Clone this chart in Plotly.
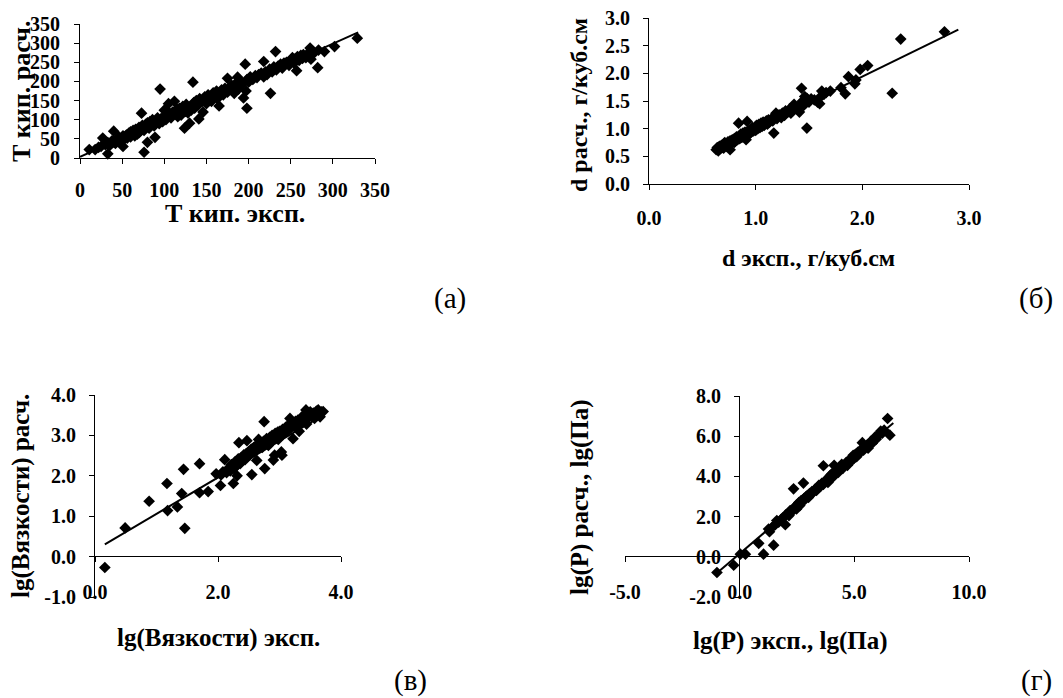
import plotly.graph_objects as go

# ---------------- data ----------------
# (а) boiling temperature: experimental vs calculated
a_x = [11, 18, 22, 25, 27, 30, 33, 33, 35, 38, 40, 40, 42, 45, 46, 48, 51, 51, 52, 55,
       56, 58, 60, 60, 62, 63, 65, 66, 68, 68, 70, 70, 72, 73, 74, 76, 76, 78, 78, 80,
       80, 82, 83, 85, 86, 88, 89, 90, 92, 94, 95, 96, 98, 100, 100, 102, 104, 105, 106, 108,
       110, 112, 113, 115, 116, 118, 120, 120, 122, 124, 125, 126, 128, 130, 130, 132, 134, 135, 136, 138,
       140, 141, 142, 145, 146, 148, 150, 150, 152, 155, 156, 158, 160, 162, 163, 165, 166, 168, 170, 172,
       175, 175, 178, 180, 183, 185, 187, 188, 190, 192, 194, 196, 197, 198, 198, 200, 202, 205, 208, 210,
       212, 215, 218, 218, 220, 222, 225, 226, 228, 230, 232, 233, 235, 238, 240, 242, 245, 248, 250, 252,
       254, 255, 257, 258, 260, 262, 264, 265, 268, 270, 273, 274, 275, 278, 282, 283, 290, 302, 329]
a_y = [22, 22, 28, 30, 52, 35, 11, 40, 32, 45, 70, 42, 38, 50, 55, 44, 30, 58, 48, 60,
       52, 65, 55, 68, 62, 72, 58, 75, 70, 62, 80, 66, 76, 117, 85, 15, 72, 88, 80, 41,
       92, 78, 95, 88, 100, 84, 54, 98, 105, 90, 180, 102, 95, 110, 125, 100, 112, 142, 118, 105,
       120, 148, 115, 128, 108, 130, 118, 112, 135, 78, 122, 140, 118, 91, 132, 125, 198, 145, 130, 150,
       138, 102, 155, 148, 120, 160, 152, 142, 165, 158, 148, 170, 162, 175, 155, 136, 170, 178, 165, 182,
       208, 172, 185, 190, 169, 195, 211, 180, 200, 192, 157, 245, 175, 130, 205, 198, 212, 205, 215, 210,
       218, 222, 252, 212, 225, 218, 232, 169, 225, 238, 278, 230, 240, 245, 235, 248, 250, 242, 255, 262,
       248, 258, 228, 265, 255, 268, 260, 270, 262, 272, 287, 258, 278, 275, 236, 282, 278, 291, 313]
a_trend_x = [0, 330]
a_trend_y = [3, 328]
a_ticks = [0, 50, 100, 150, 200, 250, 300, 350]

# (б) density: experimental vs calculated
b_x = [0.63, 0.64, 0.65, 0.66, 0.67, 0.68, 0.69, 0.70, 0.70, 0.71, 0.72, 0.73, 0.74, 0.75, 0.76, 0.76,
       0.77, 0.78, 0.79, 0.80, 0.80, 0.81, 0.82, 0.83, 0.84, 0.84, 0.85, 0.86, 0.87, 0.88, 0.89, 0.90,
       0.90, 0.91, 0.92, 0.92, 0.93, 0.94, 0.95, 0.96, 0.97, 0.98, 0.99, 1.00, 1.00, 1.01, 1.02, 1.03,
       1.04, 1.05, 1.06, 1.07, 1.08, 1.09, 1.10, 1.11, 1.12, 1.13, 1.15, 1.16, 1.17, 1.18, 1.19, 1.20,
       1.22, 1.24, 1.25, 1.27, 1.28, 1.30, 1.32, 1.33, 1.35, 1.36, 1.38, 1.40, 1.41, 1.42, 1.43, 1.44,
       1.45, 1.46, 1.48, 1.48, 1.50, 1.52, 1.55, 1.58, 1.60, 1.61, 1.62, 1.64, 1.66, 1.70, 1.80, 1.84,
       1.87, 1.93, 1.94, 1.98, 2.05, 2.28, 2.36, 2.77]
b_y = [0.62, 0.66, 0.60, 0.68, 0.64, 0.70, 0.66, 0.72, 0.65, 0.75, 0.70, 0.68, 0.76, 0.72, 0.62, 0.78,
       0.74, 0.80, 0.76, 0.82, 0.75, 0.78, 0.85, 0.80, 1.10, 0.86, 0.82, 0.90, 0.84, 0.92, 0.86, 0.94,
       0.88, 0.80, 1.13, 0.92, 0.96, 0.90, 0.98, 0.94, 1.02, 0.96, 1.00, 1.04, 0.97, 1.06, 1.00, 1.08,
       1.02, 1.10, 1.04, 1.12, 1.06, 1.10, 1.14, 1.08, 1.16, 1.12, 1.18, 1.14, 0.92, 1.22, 1.28, 1.18,
       1.25, 1.20, 1.28, 1.24, 1.32, 1.30, 1.36, 1.28, 1.40, 1.44, 1.36, 1.38, 1.30, 1.45, 1.73, 1.50,
       1.42, 1.58, 1.01, 1.55, 1.48, 1.54, 1.52, 1.48, 1.45, 1.58, 1.68, 1.62, 1.65, 1.68, 1.74, 1.63,
       1.94, 1.81, 1.88, 2.07, 2.14, 1.64, 2.62, 2.75]
b_trend_x = [0.62, 2.90]
b_trend_y = [0.64, 2.79]
b_xticks = [0.0, 1.0, 2.0, 3.0]
b_yticks = [0.0, 0.5, 1.0, 1.5, 2.0, 2.5, 3.0]

# (в) lg(viscosity): experimental vs calculated
c_x = [0.16, 0.49, 0.88, 1.17, 1.18, 1.34, 1.41, 1.44, 1.46, 1.70, 1.70, 1.84, 1.97, 2.04, 2.05, 2.08,
       2.11, 2.14, 2.18, 2.20, 2.22, 2.25, 2.26, 2.28, 2.30, 2.31, 2.33, 2.34, 2.36, 2.38, 2.40, 2.42,
       2.44, 2.46, 2.47, 2.48, 2.50, 2.52, 2.54, 2.55, 2.56, 2.58, 2.60, 2.62, 2.63, 2.64, 2.66, 2.68,
       2.70, 2.72, 2.74, 2.75, 2.76, 2.77, 2.79, 2.80, 2.82, 2.84, 2.86, 2.88, 2.90, 2.90, 2.92, 2.93,
       2.95, 2.97, 2.98, 3.00, 3.02, 3.03, 3.04, 3.05, 3.07, 3.10, 3.12, 3.14, 3.17, 3.18, 3.20, 3.22,
       3.24, 3.26, 3.28, 3.30, 3.32, 3.34, 3.36, 3.38, 3.40, 3.42, 3.43, 3.44, 3.46, 3.48, 3.50, 3.52,
       3.55, 3.57, 3.60, 3.62, 3.63, 3.66, 3.68, 3.71]
c_y = [-0.27, 0.71, 1.37, 1.81, 1.14, 1.23, 1.56, 2.16, 0.70, 2.30, 1.58, 1.61, 2.05, 1.76, 2.02, 2.10,
       2.40, 2.08, 2.20, 2.12, 2.28, 1.81, 2.18, 2.35, 2.25, 2.00, 2.42, 2.82, 2.30, 2.45, 2.38, 2.52,
       2.40, 2.55, 2.87, 2.48, 2.60, 2.52, 2.66, 2.03, 2.58, 2.70, 2.62, 2.75, 2.38, 2.68, 2.90, 2.72,
       2.80, 2.70, 2.85, 3.34, 2.18, 2.78, 2.92, 2.82, 2.75, 2.95, 2.86, 3.00, 2.39, 2.90, 2.51, 3.05,
       2.94, 3.08, 2.90, 3.10, 3.00, 2.59, 2.51, 3.15, 3.05, 3.20, 3.10, 3.25, 3.42, 3.18, 3.30, 2.92,
       3.22, 3.35, 3.25, 3.38, 3.10, 3.30, 3.45, 3.35, 3.50, 3.40, 3.63, 3.28, 3.52, 3.45, 3.58, 3.48,
       3.55, 3.42, 3.60, 3.52, 3.63, 3.46, 3.58, 3.59]
c_trend_x = [0.16, 3.71]
c_trend_y = [0.30, 3.50]
c_xticks = [0.0, 2.0, 4.0]
c_yticks = [-1.0, 0.0, 1.0, 2.0, 3.0, 4.0]

# (г) lg(P): experimental vs calculated
d_x = [-0.99, -0.26, 0.03, 0.25, 0.83, 1.04, 1.26, 1.30, 1.40, 1.48, 1.55, 1.62, 1.70, 1.80, 1.90, 1.99,
       2.00, 2.10, 2.15, 2.20, 2.28, 2.35, 2.35, 2.42, 2.48, 2.52, 2.58, 2.62, 2.68, 2.72, 2.78, 2.80,
       2.85, 2.90, 2.95, 3.00, 3.05, 3.10, 3.15, 3.20, 3.28, 3.35, 3.40, 3.45, 3.52, 3.58, 3.65, 3.65,
       3.70, 3.78, 3.85, 3.90, 3.95, 4.00, 4.05, 4.10, 4.12, 4.18, 4.25, 4.30, 4.38, 4.45, 4.50, 4.58,
       4.65, 4.70, 4.78, 4.85, 4.90, 4.95, 5.00, 5.05, 5.10, 5.15, 5.22, 5.30, 5.35, 5.40, 5.48, 5.55,
       5.60, 5.65, 5.72, 5.78, 5.85, 5.90, 5.95, 6.02, 6.10, 6.15, 6.22, 6.30, 6.45, 6.55]
d_y = [-0.78, -0.42, 0.13, 0.13, 0.67, 0.13, 1.38, 1.25, 1.45, 0.58, 1.60, 1.80, 1.72, 1.85, 1.95, 1.60,
       2.08, 2.15, 2.05, 2.30, 2.25, 3.38, 2.40, 2.50, 2.38, 2.60, 2.70, 2.55, 2.80, 2.75, 3.67, 2.90,
       2.85, 3.00, 3.05, 2.95, 3.15, 3.10, 3.25, 3.20, 3.35, 3.30, 3.45, 3.55, 3.50, 3.65, 4.53, 3.60,
       3.75, 3.80, 3.70, 3.95, 4.05, 4.10, 3.95, 4.20, 4.55, 4.25, 4.35, 4.20, 4.45, 4.60, 4.40, 4.55,
       4.70, 4.55, 4.75, 4.90, 4.80, 5.05, 4.92, 5.10, 4.98, 5.20, 5.15, 5.35, 5.68, 5.30, 5.45, 5.55,
       5.40, 5.60, 5.75, 5.65, 5.80, 5.95, 5.85, 6.00, 6.10, 6.25, 6.15, 6.30, 6.88, 6.05]
d_trend_x = [-1.04, 6.70]
d_trend_y = [-0.85, 6.66]
d_xticks = [-5.0, 0.0, 5.0, 10.0]
d_yticks = [-2.0, 0.0, 2.0, 4.0, 6.0, 8.0]

# ---------------- layout helpers ----------------
# The page body has an 8 px default margin, so the figure is drawn 8 px
# right/down of the window corner; page pixel p maps to figure pixel p - 8.
OFF = 8
W, H = 1063 - OFF, 698 - OFF


def xd(a, b):
    return [(a - OFF) / W, (b - OFF) / W]


def yd(top, bottom):
    return [1 - (bottom - OFF) / H, 1 - (top - OFF) / H]


def px(x):
    return (x - OFF) / W


def py(y):
    return 1 - (y - OFF) / H


def fmt(v):
    return f"{v:.1f}".replace("\u2212", "-")


SERIF = "Liberation Serif, Times New Roman, DejaVu Serif, serif"
tick_font = dict(family=SERIF, size=20, color="black", weight="bold")


def axis(**kw):
    base = dict(showline=True, linecolor="black", linewidth=1, ticks="outside",
                ticklen=5, tickwidth=1, tickcolor="black", showgrid=False,
                zeroline=False, tickfont=tick_font, fixedrange=True, automargin=False,
                ticklabeloverflow="allow")
    base.update(kw)
    return base


fig = go.Figure()

panels = [
    (a_x, a_y, a_trend_x, a_trend_y, "x", "y"),
    (b_x, b_y, b_trend_x, b_trend_y, "x2", "y2"),
    (c_x, c_y, c_trend_x, c_trend_y, "x3", "y3"),
    (d_x, d_y, d_trend_x, d_trend_y, "x4", "y4"),
]
for xs, ys, tx, ty, xa, ya in panels:
    fig.add_trace(go.Scatter(x=xs, y=ys, mode="markers", xaxis=xa, yaxis=ya,
                             marker=dict(symbol="diamond", size=9, color="black"),
                             cliponaxis=False, showlegend=False, hoverinfo="x+y"))
    fig.add_trace(go.Scatter(x=tx, y=ty, mode="lines", xaxis=xa, yaxis=ya,
                             line=dict(color="black", width=2),
                             cliponaxis=False, showlegend=False, hoverinfo="skip"))

fig.update_layout(
    template="none",
    width=W, height=H, margin=dict(l=0, r=0, t=0, b=0, autoexpand=False),
    paper_bgcolor="white", plot_bgcolor="white", showlegend=False,
    font=dict(family=SERIF, color="black"),
    # (а)
    xaxis=axis(domain=xd(80, 375), range=[0, 350], anchor="y",
               tickvals=a_ticks, ticktext=[str(v) for v in a_ticks], ticklabelstandoff=9),
    yaxis=axis(domain=yd(24, 158), range=[0, 350], anchor="x",
               tickvals=a_ticks, ticktext=[str(v) for v in a_ticks], ticklabelstandoff=10),
    # (б)
    xaxis2=axis(domain=xd(649, 969), range=[0, 3], anchor="y2",
                tickvals=b_xticks, ticktext=[fmt(v) for v in b_xticks], ticklabelstandoff=11),
    yaxis2=axis(domain=yd(18, 184), range=[0, 3], anchor="x2",
                tickvals=b_yticks, ticktext=[fmt(v) for v in b_yticks], ticklabelstandoff=9),
    # (в)
    xaxis3=axis(domain=xd(95, 341), range=[0, 4], anchor="free", position=py(556),
                tickvals=c_xticks, ticktext=[fmt(v) for v in c_xticks], ticklabelstandoff=13),
    yaxis3=axis(domain=yd(395, 597), range=[-1, 4], anchor="x3",
                tickvals=c_yticks, ticktext=[fmt(v) for v in c_yticks], ticklabelstandoff=9),
    # (г)
    xaxis4=axis(domain=xd(625, 969), range=[-5, 10], anchor="free", position=py(556),
                tickvals=d_xticks, ticktext=[fmt(v) for v in d_xticks], ticklabelstandoff=13),
    yaxis4=axis(domain=yd(396, 597), range=[-2, 8], anchor="free", position=px(739),
                tickvals=d_yticks, ticktext=[fmt(v) for v in d_yticks], ticklabelstandoff=9),
)

title_a = dict(family=SERIF, size=26, color="black", weight="bold")
title_font = dict(family=SERIF, size=25, color="black", weight="bold")
title_b = dict(family=SERIF, size=24, color="black", weight="bold")
label_font = dict(family=SERIF, size=29, color="black")

texts = [
    ("Т кип. эксп.", 235, 213, 0, title_a),
    ("Т кип. расч.", 22, 92, -90, title_a),
    ("d эксп., г/куб.см", 808, 258, 0, title_b),
    ("d расч., г/куб.см", 579, 105, -90, title_b),
    ("lg(Вязкости) эксп.", 218, 638, 0, title_font),
    ("lg(Вязкости) расч.", 21, 496, -90, title_font),
    ("lg(P) эксп., lg(Па)", 790, 641, 0, title_font),
    ("lg(P) расч., lg(Па)", 580, 497, -90, title_font),
    ("(а)", 450, 298, 0, label_font),
    ("(б)", 1036, 298, 0, label_font),
    ("(в)", 410, 680, 0, label_font),
    ("(г)", 1036, 680, 0, label_font),
]
for t, x, y, ang, f in texts:
    fig.add_annotation(text=t, x=px(x), y=py(y), xref="paper", yref="paper",
                       xanchor="center", yanchor="middle", textangle=ang,
                       showarrow=False, font=f)

fig.write_html("out.html")
